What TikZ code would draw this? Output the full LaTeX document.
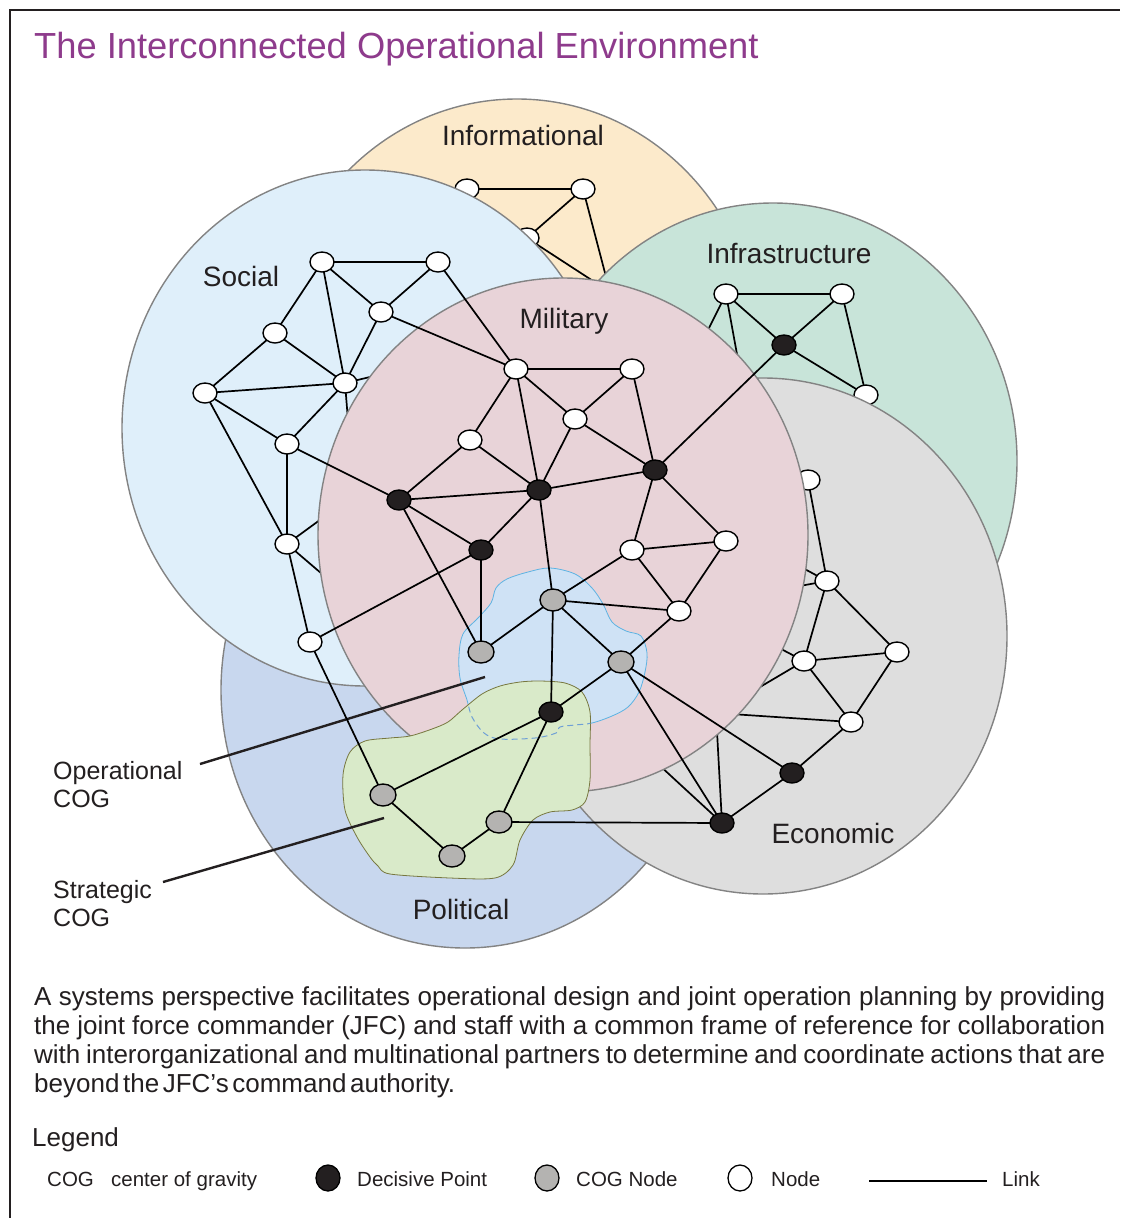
\documentclass[tikz,border=0pt]{standalone}
\usepackage{fontspec}
\setmainfont{Liberation Sans}
\usetikzlibrary{shapes.geometric}
\definecolor{txt}{HTML}{231F20}
\definecolor{ttl}{HTML}{8E3B8C}
\definecolor{cinfo}{HTML}{FCEACB}
\definecolor{csoc}{HTML}{DFEFFA}
\definecolor{cinf}{HTML}{C8E4D9}
\definecolor{cmil}{HTML}{E8D3D8}
\definecolor{ceco}{HTML}{DEDEDE}
\definecolor{cpol}{HTML}{C8D7EE}
\definecolor{rim}{HTML}{838383}
\definecolor{opfill}{HTML}{CFE2F5}
\definecolor{opline}{HTML}{5DB3E3}
\definecolor{opdash}{HTML}{6E9FD6}
\definecolor{stfill}{HTML}{D9EAC9}
\definecolor{stline}{HTML}{77773F}
\definecolor{dkn}{HTML}{231F20}
\definecolor{grn}{HTML}{B4B3B1}
\newcommand\myfs[1]{\fontsize{#1}{#1}\selectfont}
\newcommand\oppath{plot[smooth cycle, tension=0.55] coordinates {(550,568) (575,574) (592,588) (603,604) (612,622) (626,631) (641,636) (647,653) (645,672) (639,692) (628,707) (612,716) (592,723) (575,725) (560,727) (556,733) (535,738) (500,739) (484,733) (472,717) (467,700) (460,678) (459,655) (463,634) (478,618) (491,603) (496,588) (507,579) (528,572)}}
\newcommand\stpath{plot[smooth cycle, tension=0.5] coordinates {(540,681) (565,683) (582,692) (590,712) (590,745) (590,780) (585,802) (572,810) (550,812) (533,820) (520,840) (513,865) (495,878) (450,878) (390,874) (378,866) (370,857) (357,837) (345,810) (343,775) (350,752) (365,741) (390,738) (410,736) (432,729) (448,722) (462,710) (482,694) (500,686) (520,682)}}
\begin{document}
\begin{tikzpicture}[x=1pt,y=-1pt,
  sphere/.style={draw=rim, line width=1.4pt},
  wn/.style={ellipse, draw=black, fill=white, line width=1.4pt, minimum width=24pt, minimum height=20pt, inner sep=0pt, outer sep=0pt},
  bn/.style={wn, fill=dkn},
  gn/.style={wn, fill=grn, minimum width=26pt, minimum height=22pt},
  link/.style={line width=1.7pt, black},
  lbl/.style={text=txt, inner sep=0pt, anchor=base, font=\myfs{28}},
  ptr/.style={line width=2.4pt, txt},
  body/.style={anchor=base west, inner sep=0pt, text=txt, font=\myfs{26}},
  leg/.style={anchor=base west, inner sep=0pt, text=txt, font=\myfs{20.5}},
]
\useasboundingbox (0,0) rectangle (1120,1218);
\fill[white] (0,0) rectangle (1120,1218);
\draw[line width=2.5pt, txt] (10,1218) -- (10,10) -- (1120,10);
\node[anchor=base west, inner sep=0pt, text=ttl, font=\myfs{36.3}] (title) at (34,58) {The Interconnected Operational Environment};

% ---------- Informational
\filldraw[sphere, fill=cinfo] (517,357) ellipse [x radius=244pt, y radius=258pt];
\node[wn] (I1) at (467,189) {};
\node[wn] (I2) at (583,189) {};
\node[wn] (I3) at (527,238) {};
\node[wn] (I4) at (610,292) {};
\draw[link] (I1) -- (I2);
\draw[link] (I2) -- (I3);
\draw[link] (I2) -- (I4);
\draw[link] (I3) -- (I4);
\node[lbl] (linfo) at (523,145) {Informational};

% ---------- Political
\filldraw[sphere, fill=cpol] (465,690) ellipse [x radius=244pt, y radius=258pt];

% ---------- Social
\filldraw[sphere, fill=csoc] (365,428) ellipse [x radius=243pt, y radius=258pt];
\node[wn] (S1) at (322,262) {};
\node[wn] (S2) at (438,262) {};
\node[wn] (S3) at (381,312) {};
\node[wn] (S4) at (275,333) {};
\node[wn] (S5) at (345,383) {};
\node[wn] (S6) at (205,393) {};
\node[wn] (S7) at (287,444) {};
\node[wn] (S8) at (287,544) {};
\node[wn] (S9) at (310,642) {};
\node[wn] (SH1) at (420,365) {};
\node[wn] (SH2) at (352,470) {};
\node[wn] (SH3) at (365,487) {};
\node[wn] (SH4) at (370,615) {};
\foreach \a/\b in {S1/S2,S1/S3,S1/S4,S1/S5,S2/S3,S3/S5,S4/S5,S4/S6,S5/S6,S5/S7,S6/S7,S6/S8,S7/S8,S8/S9,S5/SH1,S5/SH2,S8/SH3,S8/SH4}
  \draw[link] (\a) -- (\b);
\node[lbl] (lsoc) at (241,286) {Social};

% ---------- Infrastructure
\filldraw[sphere, fill=cinf] (773,461) ellipse [x radius=244pt, y radius=258pt];
\node[wn] (N1) at (726,294) {};
\node[wn] (N2) at (842,294) {};
\node[bn] (NB) at (784,345) {};
\node[wn] (N3) at (866,395) {};
\node[wn] (H1) at (680,386) {};
\node[wn] (H2) at (749,420) {};
\foreach \a/\b in {N1/N2,N1/NB,N2/NB,N2/N3,NB/N3,N1/H1,N1/H2}
  \draw[link] (\a) -- (\b);
\node[lbl] (linf) at (789,263) {Infrastructure};

% ---------- Economic
\filldraw[sphere, fill=ceco] (763,636) ellipse [x radius=244pt, y radius=258pt];
\node[wn] (E1) at (808,480) {};
\node[wn] (E2) at (827,581) {};
\node[wn] (E3) at (804,661) {};
\node[wn] (E4) at (897,652) {};
\node[wn] (E5) at (851,722) {};
\node[bn] (EB1) at (792,773) {};
\node[bn] (EB2) at (722,823) {};
\node[wn] (XA) at (745,537) {};
\node[wn] (XB) at (745,596) {};
\node[wn] (XC) at (741,628) {};
\node[wn] (XD) at (716,713) {};
\node[wn] (XE) at (645,752) {};
\foreach \a/\b in {E1/E2,E2/E3,E2/E4,E3/E4,E3/E5,E4/E5,E5/EB1,EB1/EB2,E2/XA,E2/XB,E3/XC,E3/XD,E5/XD,EB2/XD,EB2/XE}
  \draw[link] (\a) -- (\b);
\node[lbl] (leco) at (833,843) {Economic};

% ---------- Military
\filldraw[sphere, fill=cmil] (563,535) ellipse [x radius=245pt, y radius=257pt];
\node[lbl] (lmil) at (564,328) {Military};
\node[lbl] (lpol) at (461,919) {Political};

% ---------- COG regions
\filldraw[fill=opfill, draw=opline, line width=0.8pt] \oppath;
\filldraw[fill=stfill, draw=stline, line width=0.8pt] \stpath;
\begin{scope}
  \clip \stpath;
  \draw[opdash, line width=1pt, dash pattern=on 6pt off 4pt] \oppath;
\end{scope}

% ---------- pointer lines
\node[anchor=base west, inner sep=0pt, text=txt, font=\myfs{25}] (opl) at (53,779) {Operational};
\node[anchor=base west, inner sep=0pt, text=txt, font=\myfs{25}] (opl2) at (53,807) {COG};
\node[anchor=base west, inner sep=0pt, text=txt, font=\myfs{25}] (stl) at (53,898) {Strategic};
\node[anchor=base west, inner sep=0pt, text=txt, font=\myfs{25}] (stl2) at (53,926) {COG};
\coordinate (opa) at (200,764);
\coordinate (opb) at (485,677);
\coordinate (sta) at (163,882);
\coordinate (stb) at (384,818);
\draw[ptr] (opa) -- (opb);
\draw[ptr] (sta) -- (stb);

% ---------- Military / COG network (top layer)
\node[wn] (M1) at (516,369) {};
\node[wn] (M2) at (632,369) {};
\node[wn] (M3) at (575,419) {};
\node[wn] (M4) at (470,440) {};
\node[bn] (MB1) at (399,500) {};
\node[bn] (MB2) at (539,490) {};
\node[bn] (MB3) at (481,550) {};
\node[bn] (MB4) at (655,470) {};
\node[wn] (M5) at (632,550) {};
\node[wn] (M6) at (726,541) {};
\node[wn] (M7) at (679,611) {};
\node[gn] (C1) at (553,600) {};
\node[gn] (C2) at (481,652) {};
\node[gn] (C3) at (621,662) {};
\node[bn] (DB) at (551,712) {};
\node[gn] (G1) at (383,795) {};
\node[gn] (G2) at (452,856) {};
\node[gn] (G3) at (499,822) {};
\foreach \a/\b in {M1/M2,M1/M3,M1/M4,M1/MB2,M2/M3,M2/MB4,M3/MB2,M3/MB4,M4/MB1,M4/MB2,MB1/MB2,MB1/MB3,MB1/C2,MB2/MB3,MB2/MB4,MB2/C1,MB3/C2,MB4/M5,MB4/M6,MB4/NB,M5/M6,M5/M7,M5/C1,M6/M7,C1/M7,C1/C2,C1/C3,C1/DB,C3/M7,C3/DB,C3/EB1,C3/EB2,S3/M1,S2/M1,S7/MB1,S9/MB3,S9/G1,G1/DB,G1/G2,G2/G3,G3/DB,G3/EB2}
  \draw[link] (\a) -- (\b);

% ---------- body text
\node[body] (t1) at (34,1005) {\makebox[1071pt][s]{A systems perspective facilitates operational design and joint operation planning by providing}};
\node[body] (t2) at (34,1034) {\makebox[1071pt][s]{the joint force commander (JFC) and staff with a common frame of reference for collaboration}};
\node[body] (t3) at (34,1063) {\makebox[1071pt][s]{with interorganizational and multinational partners to determine and coordinate actions that are}};
\node[body] (t4) at (34,1092) {\makebox[421pt][s]{\spaceskip=3pt plus 2pt minus 1pt beyond the JFC’s command authority.}};

% ---------- legend
\node[body] (legt) at (32,1146) {Legend};
\node[leg] (lcog) at (47,1186) {COG};
\node[leg] (lcg) at (111,1186) {center of gravity};
\node[ellipse, draw=black, fill=dkn, line width=1.3pt, minimum width=24pt, minimum height=26pt, inner sep=0pt] (lgb) at (328,1178) {};
\node[leg] (ldp) at (357,1186) {Decisive Point};
\node[ellipse, draw=black, fill=grn, line width=1.3pt, minimum width=24pt, minimum height=26pt, inner sep=0pt] (lgg) at (547,1178) {};
\node[leg] (lcn) at (576,1186) {COG Node};
\node[ellipse, draw=black, fill=white, line width=1.3pt, minimum width=24pt, minimum height=26pt, inner sep=0pt] (lgw) at (740,1178) {};
\node[leg] (lnd) at (771,1186) {Node};
\coordinate (lk1) at (869,1181);
\coordinate (lk2) at (987,1181);
\draw[line width=1.3pt, black] (lk1) -- (lk2);
\node[leg] (llk) at (1002,1186) {Link};
\end{tikzpicture}
\end{document}
